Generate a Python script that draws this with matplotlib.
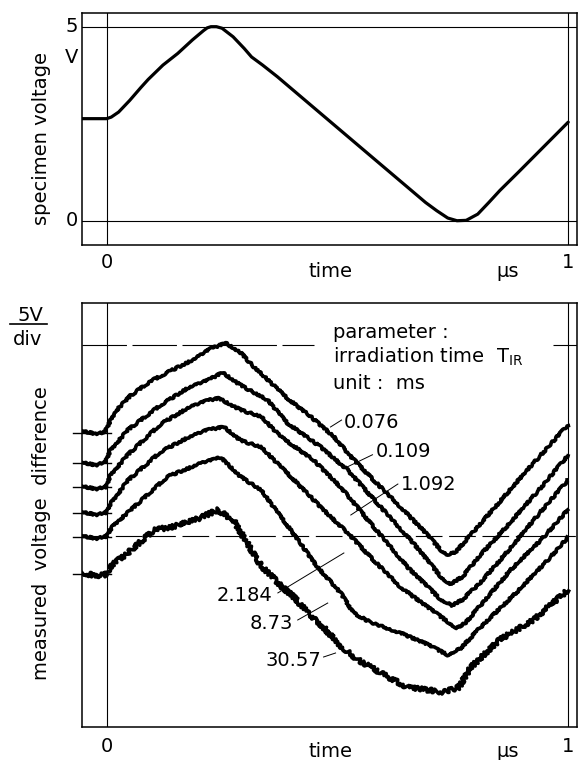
import matplotlib
matplotlib.use("Agg")
import matplotlib.pyplot as plt
from matplotlib.lines import Line2D
from matplotlib.transforms import offset_copy

plt.rcParams['font.family'] = ['DejaVu Sans']
plt.rcParams['font.size'] = 14
plt.rcParams['mathtext.fontset'] = 'dejavusans'

# specimen voltage [V] over time [us]
t_spec = [-0.054, 0.0, 0.010, 0.026, 0.050, 0.074, 0.090, 0.122, 0.154, 0.186, 0.210, 0.218,
          0.226, 0.238, 0.250, 0.274, 0.298, 0.314, 0.338, 0.370, 0.571, 0.691, 0.715, 0.739,
          0.759, 0.779, 0.804, 0.828, 0.852, 0.892, 1.0]
v_spec = [2.63, 2.63, 2.67, 2.80, 3.10, 3.43, 3.64, 4.01, 4.31, 4.66, 4.90, 4.97,
          5.00, 5.00, 4.96, 4.74, 4.44, 4.22, 4.01, 3.71, 1.68, 0.47, 0.26, 0.07,
          0.0, 0.01, 0.17, 0.47, 0.78, 1.25, 2.54]

# measured voltage difference [div], parameter: irradiation time T_IR [ms]
t_ir = ["0.076", "0.109", "1.092", "2.184", "8.73", "30.57"]
offsets = [1.074, 0.766, 0.514, 0.241, -0.010, -0.402]

t1 = [-0.053, -0.026, -0.006, 0.0, 0.020, 0.052, 0.095, 0.139, 0.189, 0.225, 0.258, 0.290, 0.319,
      0.392, 0.442, 0.492, 0.529, 0.579, 0.637, 0.691, 0.724, 0.739, 0.756, 0.789, 0.854, 0.919, 0.999]
u1 = [1.10, 1.07, 1.08, 1.13, 1.31, 1.47, 1.62, 1.73, 1.85, 1.96, 2.02, 1.92, 1.77,
      1.44, 1.25, 1.04, 0.83, 0.58, 0.30, 0.03, -0.15, -0.20, -0.17, 0.01, 0.37, 0.73, 1.16]

t2 = [-0.053, -0.024, -0.004, 0.009, 0.046, 0.117, 0.176, 0.219, 0.251, 0.290, 0.349, 0.392,
      0.464, 0.522, 0.594, 0.665, 0.724, 0.743, 0.771, 0.810, 0.875, 0.940, 0.999]
u2 = [0.77, 0.74, 0.77, 0.90, 1.11, 1.37, 1.55, 1.63, 1.71, 1.58, 1.42, 1.18,
      0.93, 0.69, 0.30, -0.08, -0.43, -0.51, -0.43, -0.20, 0.14, 0.50, 0.84]

t3 = [-0.053, -0.024, -0.002, 0.009, 0.046, 0.117, 0.176, 0.219, 0.243, 0.290, 0.334, 0.377,
      0.449, 0.507, 0.579, 0.652, 0.724, 0.748, 0.771, 0.810, 0.875, 0.940, 0.999]
u3 = [0.52, 0.49, 0.51, 0.64, 0.85, 1.17, 1.34, 1.42, 1.44, 1.32, 1.25, 1.04,
      0.79, 0.51, 0.09, -0.33, -0.67, -0.73, -0.67, -0.49, -0.13, 0.25, 0.58]

t4 = [-0.053, -0.024, -0.002, 0.009, 0.046, 0.117, 0.176, 0.219, 0.254, 0.290, 0.334, 0.399,
      0.470, 0.522, 0.579, 0.637, 0.696, 0.758, 0.778, 0.810, 0.875, 0.940, 0.999]
u4 = [0.25, 0.22, 0.24, 0.34, 0.58, 0.88, 1.03, 1.11, 1.14, 1.00, 0.93, 0.62,
      0.27, 0.03, -0.26, -0.54, -0.75, -0.97, -0.91, -0.73, -0.36, -0.05, 0.27]

t5 = [-0.053, -0.024, -0.002, 0.015, 0.059, 0.132, 0.204, 0.247, 0.290, 0.334, 0.399, 0.457,
      0.507, 0.535, 0.572, 0.637, 0.691, 0.739, 0.767, 0.810, 0.893, 0.951, 0.999]
u5 = [0.00, -0.03, -0.01, 0.11, 0.30, 0.62, 0.76, 0.82, 0.62, 0.48, 0.06, -0.33,
      -0.60, -0.81, -0.91, -1.02, -1.13, -1.25, -1.18, -0.96, -0.57, -0.28, -0.02]

t6 = [-0.053, -0.024, -0.004, 0.015, 0.046, 0.102, 0.139, 0.189, 0.241, 0.275, 0.301, 0.334, 0.383,
      0.405, 0.436, 0.470, 0.501, 0.544, 0.594, 0.652, 0.730, 0.763, 0.789, 0.852, 0.925, 0.999]
u6 = [-0.39, -0.42, -0.41, -0.29, -0.18, 0.06, 0.09, 0.16, 0.27, 0.16, -0.05, -0.31, -0.55,
      -0.64, -0.81, -0.96, -1.13, -1.30, -1.44, -1.59, -1.64, -1.59, -1.38, -1.09, -0.88, -0.57]

traces = [(t1, u1), (t2, u2), (t3, u3), (t4, u4), (t5, u5), (t6, u6)]

fig = plt.figure(figsize=(5.79, 7.6), dpi=100)
ax1 = fig.add_axes([0.1411, 0.6776, 0.8554, 0.3049])
ax2 = fig.add_axes([0.1411, 0.0438, 0.8554, 0.5571])

for ax in (ax1, ax2):
    ax.set_xlim(-0.054, 1.019)
    ax.set_xticks([])
    ax.set_yticks([])
    for sp in ax.spines.values():
        sp.set_linewidth(1.1)
    ax.axvline(0, color='k', lw=0.8)
    ax.axvline(1, color='k', lw=0.8)

# --- top: specimen voltage
ax1.set_ylim(-0.626, 5.345)
ax1.axhline(5, color='k', lw=0.8)
ax1.axhline(0, color='k', lw=0.8)
ax1.plot(t_spec, v_spec, color='k', lw=2.3, solid_joinstyle='round', solid_capstyle='round')
ax1.text(-0.076, 5.0, "5", ha='center', va='center', clip_on=False)
ax1.text(-0.076, 4.21, "V", ha='center', va='center', clip_on=False)
ax1.text(-0.076, 0.0, "0", ha='center', va='center', clip_on=False)
fig.text(41.7 / 579, 1 - 138.5 / 760, "specimen voltage", rotation=90, ha='center', va='center')


def time_labels(ax, dy_num, dy_word):
    for x, s, dy in [(0, "0", dy_num), (0.485, "time", dy_word), (0.869, "µs", dy_word), (1, "1", dy_num)]:
        tr = offset_copy(ax.get_xaxis_transform(), fig=fig, x=0, y=-dy, units='dots')
        ax.text(x, 0, s, transform=tr, ha='center', va='baseline')


time_labels(ax1, 23, 32)

# --- bottom: measured voltage difference
ax2.set_ylim(-2.003, 2.437)
ax2.hlines([2, 2], [-0.054, 0.966], [0.449, 1.019], color='k', lw=0.8, linestyles=(0, (40, 5)))
ax2.axhline(0, color='k', lw=0.8, linestyle=(0, (24, 6)))
for off in offsets:
    ax2.plot([-0.072, 0.009], [off, off], color='k', lw=1.0, clip_on=False)

for i, (t, u) in enumerate(traces):
    ln, = ax2.plot(t, u, color='k', lw=2.6, solid_joinstyle='round')
    if i == len(traces) - 1:
        ln.set_sketch_params(scale=2.2, length=2.0, randomness=8)
    else:
        ln.set_sketch_params(scale=1.0, length=3.0, randomness=10)

# curve labels with leader lines
label_pos = [(0.514, 1.192, 'left'), (0.583, 0.878, 'left'), (0.637, 0.532, 'left'),
             (0.360, -0.622, 'right'), (0.403, -0.916, 'right'), (0.466, -1.304, 'right')]
leaders = [((0.485, 1.14), (0.509, 1.213)), ((0.522, 0.723), (0.576, 0.849)),
           ((0.529, 0.217), (0.631, 0.542)), ((0.371, -0.600), (0.514, -0.181)),
           ((0.414, -0.884), (0.479, -0.706)), ((0.470, -1.272), (0.496, -1.230))]
for s, (x, y, ha), (p0, p1) in zip(t_ir, label_pos, leaders):
    ax2.text(x, y, s, ha=ha, va='center')
    ax2.plot([p0[0], p1[0]], [p0[1], p1[1]], color='k', lw=0.7)

ax2.text(0.490, 2.136, "parameter :", ha='left', va='center')
ax2.text(0.490, 1.874, "irradiation time  T$_{\\mathrm{IR}}$", ha='left', va='center')
ax2.text(0.490, 1.601, "unit :  ms", ha='left', va='center')

fig.text(30 / 579, 1 - 321 / 760, "5V", ha='center', va='baseline')
fig.add_artist(Line2D([10 / 579, 47 / 579], [1 - 324 / 760] * 2, color='k', lw=1.2))
fig.text(28 / 579, 1 - 345 / 760, "div", ha='center', va='baseline')
fig.text(42 / 579, 1 - 533 / 760, "measured  voltage  difference", rotation=90, ha='center', va='center')

time_labels(ax2, 25, 30)

fig.savefig("out.png", dpi=100, facecolor='white')
